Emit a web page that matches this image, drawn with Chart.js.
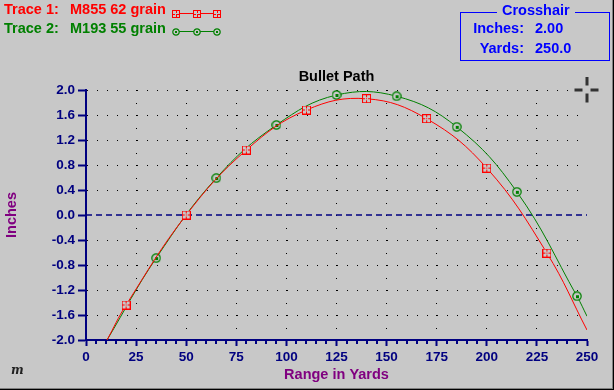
<!DOCTYPE html>
<html>
<head>
<meta charset="utf-8">
<title>Bullet Path</title>
<script src="https://cdn.jsdelivr.net/npm/chart.js@4.4.1/dist/chart.umd.min.js"></script>
<style>
  html, body { margin: 0; padding: 0; background: #c8c8c8; }
  #wrap { position: relative; width: 614px; height: 390px; overflow: hidden; background: #c8c8c8;
          font-family: 'Liberation Sans', Arial, sans-serif; font-weight: bold; font-size: 14.5px; }
  #chart { position: absolute; left: 0; top: 0; }
  .txt { position: absolute; line-height: 17px; white-space: pre; }
  .red { color: #ff0000; }
  .green { color: #008000; }
  .blue { color: #0000ff; }
  #xbox { position: absolute; left: 460px; top: 12px; width: 150px; height: 49px; box-sizing: border-box;
          border: 1px solid #0000ff; }
  #xtitle { background: #c8c8c8; padding: 0 5px; }
  .sample { position: absolute; }
  #logo { position: absolute; left: 11px; top: 363px; font-family: 'DejaVu Serif', serif; font-style: italic;
          font-size: 12px; color: #222; }
  #frame { position: absolute; left: 0; top: 0; width: 614px; height: 390px; box-sizing: border-box; pointer-events: none;
           box-shadow: inset -1px -1px 0 #000, inset -2px -2px 0 #808080; }
</style>
</head>
<body>
<div id="wrap">
  <canvas id="chart" width="614" height="390"></canvas>

  <span class="txt red" style="left:4px; top:1px;">Trace 1:</span>
  <span class="txt red" style="left:70px; top:1px;">M855 62 grain</span>
  <canvas id="sample1" class="sample" width="54" height="11" style="left:170px; top:8px;"></canvas>
  <span class="txt green" style="left:4px; top:20px;">Trace 2:</span>
  <span class="txt green" style="left:70px; top:20px;">M193 55 grain</span>
  <canvas id="sample2" class="sample" width="54" height="11" style="left:170px; top:26px;"></canvas>

  <div id="xbox"></div>
  <span id="xtitle" class="txt blue" style="left:497px; top:2px;">Crosshair</span>
  <span class="txt blue" style="left:440px; top:20px; width:84px; text-align:right;">Inches:</span>
  <span id="xInches" class="txt blue" style="left:535px; top:20px;"></span>
  <span class="txt blue" style="left:440px; top:40px; width:84px; text-align:right;">Yards:</span>
  <span id="xYards" class="txt blue" style="left:535px; top:40px;"></span>

  <span id="logo">m</span>
  <div id="frame"></div>
</div>

<script>
// trace data (yards, inches)
const trace1Name = 'M855 62 grain';
const trace1Yards = [10.5, 20, 50, 80, 110, 140, 170, 200, 230, 250];
const trace1Inches = [-2.0, -1.44, 0.0, 1.04, 1.68, 1.86, 1.54, 0.75, -0.61, -1.84];

const trace2Name = 'M193 55 grain';
const trace2Yards = [10.5, 35, 65, 95, 125, 155, 185, 215, 245, 250];
const trace2Inches = [-2.0, -0.69, 0.59, 1.44, 1.92, 1.90, 1.41, 0.37, -1.30, -1.62];

const zeroYards = [0, 250];
const zeroInches = [0, 0];

const crosshairYards = [250.0];
const crosshairInches = [2.00];

const yardTicks = [0, 25, 50, 75, 100, 125, 150, 175, 200, 225, 250];
const yardMinorStep = 5;
const inchTicks = [-2.0, -1.6, -1.2, -0.8, -0.4, 0.0, 0.4, 0.8, 1.2, 1.6, 2.0];

const BG = '#c8c8c8';
const RED = '#ff0000';
const GREEN = '#008000';
const NAVY = '#000080';
const PURPLE = '#800080';

document.getElementById('xInches').textContent = crosshairInches[0].toFixed(2);
document.getElementById('xYards').textContent = crosshairYards[0].toFixed(1);

function toPoints(xs, ys) {
  return xs.map((x, i) => ({ x: x, y: ys[i] }));
}

function squareMarker(size) {
  const c = document.createElement('canvas');
  c.width = size; c.height = size;
  const g = c.getContext('2d');
  g.fillStyle = BG;
  g.fillRect(0, 0, size, size);
  g.strokeStyle = RED;
  g.lineWidth = 1;
  g.strokeRect(0.5, 0.5, size - 1, size - 1);
  const m = Math.floor(size / 2);
  g.fillStyle = RED;
  g.fillRect(m, 1, 1, 2);
  g.fillRect(m, size - 3, 1, 2);
  g.fillRect(1, m, 2, 1);
  g.fillRect(size - 3, m, 2, 1);
  g.fillRect(m, m, 1, 1);
  return c;
}

function circleMarker(size) {
  const c = document.createElement('canvas');
  c.width = size; c.height = size;
  const g = c.getContext('2d');
  const r = size / 2;
  g.beginPath();
  g.arc(r, r, r - 0.8, 0, Math.PI * 2);
  g.fillStyle = BG;
  g.fill();
  g.strokeStyle = GREEN;
  g.lineWidth = 1.2;
  g.stroke();
  g.fillStyle = GREEN;
  const d = size > 9 ? 3 : 2;
  g.fillRect(Math.round(r - d / 2), Math.round(r - d / 2), d, d);
  return c;
}

function crosshairMarker() {
  const c = document.createElement('canvas');
  c.width = 27; c.height = 27;
  const g = c.getContext('2d');
  g.fillStyle = '#333';
  g.fillRect(1, 12, 8, 3);
  g.fillRect(17, 12, 8, 3);
  g.fillRect(12, 0, 3, 9);
  g.fillRect(12, 17, 3, 9);
  return c;
}

function drawSample(id, marker, color) {
  const cv = document.getElementById(id);
  const g = cv.getContext('2d');
  g.strokeStyle = color;
  g.lineWidth = 1;
  g.beginPath();
  g.moveTo(6, 5.5);
  g.lineTo(47, 5.5);
  g.stroke();
  [6, 27, 47].forEach((cx) => {
    g.drawImage(marker, Math.round(cx - marker.width / 2), Math.round(5.5 - marker.height / 2));
  });
}

const sqBig = squareMarker(9);
const ciBig = circleMarker(10);
drawSample('sample1', squareMarker(8), RED);
drawSample('sample2', circleMarker(8), GREEN);

const minorTicks = {
  id: 'minorTicks',
  afterDraw(chart) {
    const sx = chart.scales.x;
    const ctx = chart.ctx;
    const y0 = chart.chartArea.bottom;
    ctx.save();
    ctx.strokeStyle = NAVY;
    ctx.lineWidth = 2;
    for (let v = yardTicks[0]; v <= yardTicks[yardTicks.length - 1]; v += yardMinorStep) {
      if (yardTicks.includes(v)) continue;
      const px = Math.round(sx.getPixelForValue(v));
      ctx.beginPath();
      ctx.moveTo(px, y0);
      ctx.lineTo(px, y0 + 4);
      ctx.stroke();
    }
    ctx.restore();
  }
};

const endRadius = (len) => (c) => (c.dataIndex === 0 || c.dataIndex === len - 1) ? 0 : 5;

Chart.defaults.font.family = "'Liberation Sans', Arial, sans-serif";
Chart.defaults.font.weight = 'bold';

new Chart(document.getElementById('chart'), {
  type: 'scatter',
  data: {
    datasets: [
      {
        label: 'Crosshair',
        data: toPoints(crosshairYards, crosshairInches),
        pointStyle: crosshairMarker(),
        pointRadius: 6,
        showLine: false,
        clip: false
      },
      {
        label: trace1Name,
        data: toPoints(trace1Yards, trace1Inches),
        showLine: true,
        borderColor: RED,
        borderWidth: 1,
        tension: 0.4,
        pointStyle: sqBig,
        pointRadius: endRadius(trace1Yards.length)
      },
      {
        label: trace2Name,
        data: toPoints(trace2Yards, trace2Inches),
        showLine: true,
        borderColor: GREEN,
        borderWidth: 1,
        tension: 0.4,
        pointStyle: ciBig,
        pointRadius: endRadius(trace2Yards.length)
      },
      {
        label: 'zero',
        data: toPoints(zeroYards, zeroInches),
        showLine: true,
        borderColor: NAVY,
        borderWidth: 1.5,
        borderDash: [6, 4],
        pointRadius: 0
      }
    ]
  },
  options: {
    responsive: false,
    animation: false,
    events: [],
    layout: { padding: { top: 0, right: 27, bottom: 0, left: 0 } },
    plugins: {
      legend: { display: false },
      tooltip: { enabled: false },
      title: {
        display: true,
        text: 'Bullet Path',
        color: '#000',
        fullSize: false,
        font: { size: 14.5, weight: 'bold' },
        padding: { top: 68, bottom: 4.6 }
      }
    },
    scales: {
      x: {
        type: 'linear',
        min: yardTicks[0],
        max: yardTicks[yardTicks.length - 1],
        afterBuildTicks: (s) => { s.ticks = yardTicks.map((v) => ({ value: v })); },
        afterFit: (s) => { s.height = 50; },
        ticks: {
          color: NAVY,
          font: { size: 13.5, weight: 'bold' },
          padding: 3,
          maxRotation: 0,
          autoSkip: false,
          callback: (v) => String(v)
        },
        grid: {
          color: (c) => (c.tick && (c.tick.value === yardTicks[0] || c.tick.value === yardTicks[yardTicks.length - 1])) ? 'transparent' : '#000',
          lineWidth: 1,
          tickColor: NAVY,
          tickWidth: 2,
          tickLength: 6
        },
        border: { display: true, color: NAVY, width: 2, dash: [1, 12, 1, 11] },
        title: {
          display: true,
          text: 'Range in Yards',
          color: PURPLE,
          font: { size: 14.5, weight: 'bold' },
          padding: { top: 0, bottom: 6 }
        }
      },
      y: {
        type: 'linear',
        min: inchTicks[0],
        max: inchTicks[inchTicks.length - 1],
        afterBuildTicks: (s) => { s.ticks = inchTicks.map((v) => ({ value: v })); },
        afterFit: (s) => { s.width = 86; },
        ticks: {
          color: NAVY,
          font: { size: 13.5, weight: 'bold' },
          padding: 3,
          callback: (v) => Number(v).toFixed(1)
        },
        grid: {
          color: (c) => (c.tick && (Math.abs(c.tick.value) < 1e-9 || c.tick.value <= inchTicks[0])) ? 'transparent' : '#000',
          lineWidth: 1,
          tickColor: NAVY,
          tickWidth: 2,
          tickLength: 8
        },
        border: { display: true, color: NAVY, width: 2, dash: [1, 9] },
        title: {
          display: true,
          text: 'Inches',
          color: PURPLE,
          font: { size: 14.5, weight: 'bold' },
          padding: { top: 3, bottom: 0 }
        }
      }
    }
  },
  plugins: [minorTicks]
});
</script>
</body>
</html>
